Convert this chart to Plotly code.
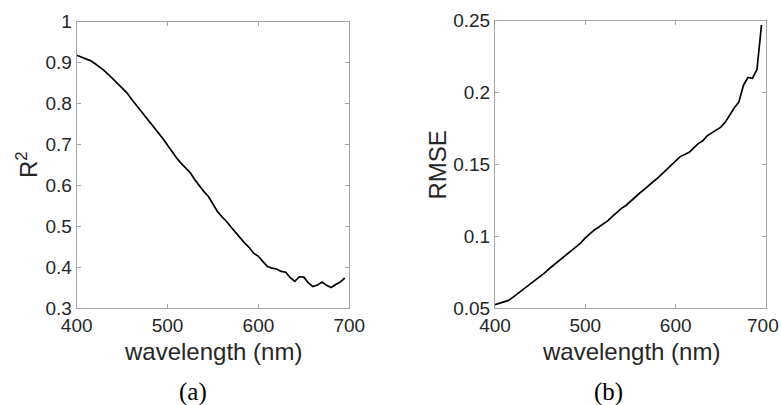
import plotly.graph_objects as go

wavelength = list(range(400, 700, 5))

r2 = [0.918, 0.914, 0.910, 0.905, 0.898, 0.890, 0.881, 0.871, 0.860, 0.849,
      0.838, 0.827, 0.812, 0.798, 0.785, 0.772, 0.757, 0.743, 0.728, 0.714,
      0.698, 0.682, 0.667, 0.654, 0.642, 0.631, 0.614, 0.598, 0.585, 0.573,
      0.555, 0.536, 0.523, 0.512, 0.498, 0.484, 0.472, 0.459, 0.448, 0.434,
      0.427, 0.414, 0.402, 0.398, 0.396, 0.390, 0.388, 0.375, 0.366, 0.377,
      0.376, 0.362, 0.353, 0.357, 0.364, 0.356, 0.351, 0.358, 0.364, 0.374]

rmse = [0.0525, 0.0535, 0.0545, 0.0555, 0.0578, 0.0602, 0.0627, 0.0650, 0.0672, 0.0697,
        0.0722, 0.0746, 0.0775, 0.0800, 0.0828, 0.0853, 0.0878, 0.0903, 0.0928, 0.0955,
        0.0990, 0.1020, 0.1045, 0.1065, 0.1085, 0.1110, 0.1140, 0.1170, 0.1195, 0.1215,
        0.1245, 0.1275, 0.1300, 0.1325, 0.1355, 0.1380, 0.1405, 0.1435, 0.1465, 0.1500,
        0.1525, 0.1555, 0.1570, 0.1585, 0.1615, 0.1645, 0.1665, 0.1700, 0.1720, 0.1740,
        0.1760, 0.1795, 0.1850, 0.1895, 0.1935, 0.2050, 0.2105, 0.2100, 0.2160, 0.2470]

x_ticks = [400, 500, 600, 700]
x_labels = ["400", "500", "600", "700"]
r2_ticks = [0.3, 0.4, 0.5, 0.6, 0.7, 0.8, 0.9, 1]
r2_labels = ["0.3", "0.4", "0.5", "0.6", "0.7", "0.8", "0.9", "1"]
rmse_ticks = [0.05, 0.1, 0.15, 0.2, 0.25]
rmse_labels = ["0.05", "0.1", "0.15", "0.2", "0.25"]

W, H = 781, 405
FONT = "Liberation Sans, Arial, sans-serif"
SERIF = "Liberation Serif, Times New Roman, serif"
TICKC = "#262626"
BOX = "#a6a6a6"


def px(x):
    return x / W


def py(y):
    return 1 - y / H


def label(text, x, y, size, family=FONT, color=TICKC, angle=0, xanchor="center"):
    return dict(text=text, x=px(x), y=py(y), xref="paper", yref="paper",
                xanchor=xanchor, yanchor="middle", showarrow=False,
                textangle=angle, font=dict(family=family, size=size, color=color))


fig = go.Figure()
fig.add_trace(go.Scatter(x=wavelength, y=r2, mode="lines",
                         line=dict(color="black", width=1.7), xaxis="x", yaxis="y",
                         showlegend=False))
fig.add_trace(go.Scatter(x=wavelength, y=rmse, mode="lines",
                         line=dict(color="black", width=1.7), xaxis="x2", yaxis="y2",
                         showlegend=False))

ax_common = dict(showline=True, linecolor=BOX, linewidth=1, mirror="allticks",
                 ticks="inside", ticklen=4, tickcolor=BOX, showgrid=False,
                 zeroline=False, automargin=False, ticklabeloverflow="allow",
                 tickfont=dict(family=FONT, size=19, color=TICKC))

# the right panel's last x label touches the page edge, where plotly drops it,
# so it is drawn as a text annotation kept just inside the page
x2_labels = x_labels[:-1] + [""]

fig.update_layout(
    width=W, height=H,
    margin=dict(l=0, r=0, t=0, b=0),
    paper_bgcolor="white", plot_bgcolor="white",
    xaxis=dict(domain=[px(76.7), px(349.3)], range=[400, 700], tickvals=x_ticks,
               ticktext=x_labels, anchor="y", **ax_common),
    yaxis=dict(domain=[py(308.3), py(21.7)], range=[0.3, 1], tickvals=r2_ticks,
               ticktext=r2_labels, anchor="x", **ax_common),
    xaxis2=dict(domain=[px(495), px(766)], range=[400, 700], tickvals=x_ticks,
                ticktext=x2_labels, anchor="y2", **ax_common),
    yaxis2=dict(domain=[py(308.3), py(20.7)], range=[0.05, 0.25], tickvals=rmse_ticks,
                ticktext=rmse_labels, anchor="x2", **ax_common),
    annotations=[
        label(x_labels[-1], 781, 325, 19, xanchor="right"),
        label("wavelength (nm)", 213, 351, 24),
        label("wavelength (nm)", 630.5, 351, 24),
        label("R<sup>2</sup>", 27, 165, 24, angle=-90),
        label("RMSE", 436.5, 165, 24, angle=-90),
        label("(a)", 192.5, 392, 25, family=SERIF, color="black"),
        label("(b)", 608, 392, 25, family=SERIF, color="black"),
    ],
)

fig.write_html("out.html", config={"displayModeBar": False},
               post_script="document.body.style.margin='0';document.body.style.overflow='hidden';")
